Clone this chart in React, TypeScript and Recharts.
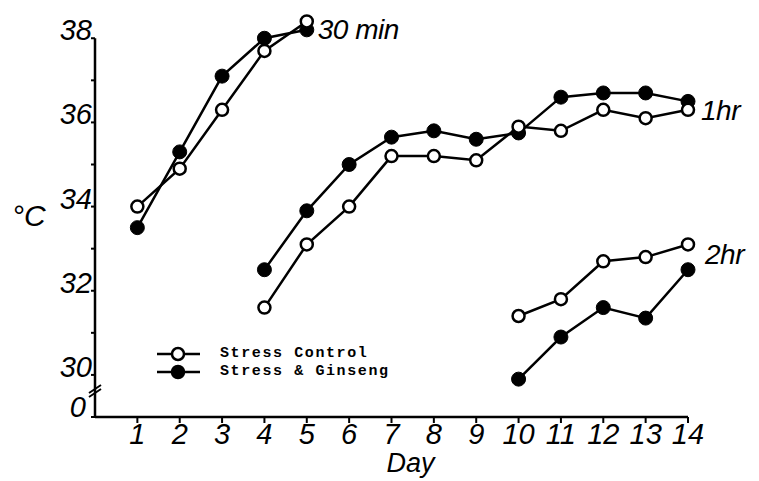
import React from "react";
import { LineChart, Line, XAxis, YAxis, ReferenceLine, LabelList } from "recharts";

const days = [1, 2, 3, 4, 5, 6, 7, 8, 9, 10, 11, 12, 13, 14];
const control30 = [34.0, 34.9, 36.3, 37.7, 38.4, null, null, null, null, null, null, null, null, null];
const ginseng30 = [33.5, 35.3, 37.1, 38.0, 38.2, null, null, null, null, null, null, null, null, null];
const control1h = [null, null, null, 31.6, 33.1, 34.0, 35.2, 35.2, 35.1, 35.9, 35.8, 36.3, 36.1, 36.3];
const ginseng1h = [null, null, null, 32.5, 33.9, 35.0, 35.65, 35.8, 35.6, 35.75, 36.6, 36.7, 36.7, 36.5];
const control2h = [null, null, null, null, null, null, null, null, null, 31.4, 31.8, 32.7, 32.8, 33.1];
const ginseng2h = [null, null, null, null, null, null, null, null, null, 29.9, 30.9, 31.6, 31.35, 32.5];
const yTicks = [29, 30, 31, 32, 33, 34, 35, 36, 37, 38];
const legendItems = [
  { name: "Stress Control", fill: "#fff" },
  { name: "Stress & Ginseng", fill: "#000" },
];

const data = days.map((d, i) => ({
  day: d,
  c30: control30[i],
  g30: ginseng30[i],
  c1: control1h[i],
  g1: ginseng1h[i],
  c2: control2h[i],
  g2: ginseng2h[i],
}));

const hand = "'Liberation Sans', Arial, sans-serif";

const YTick = (props: any) => {
  const { x, y, payload } = props;
  const v = payload.value;
  if (v === 29) {
    return (
      <g>
        <text x={x - 3} y={y} textAnchor="end" fontFamily={hand} fontStyle="italic" fontSize={29} fill="#000">0</text>
        <path d={`M ${x} ${y - 20} L ${x + 12} ${y - 28} M ${x} ${y - 24} L ${x + 12} ${y - 32}`} stroke="#000" strokeWidth={2} />
      </g>
    );
  }
  if (v % 2 !== 0) return null;
  return (
    <text x={x + 3} y={y + 2} textAnchor="end" fontFamily={hand} fontStyle="italic" fontSize={29} fill="#000">
      {v}
    </text>
  );
};

const endLabel = (text: string, last: number, dx: number, dy: number) => (props: any) => {
  const { x, y, index } = props;
  if (index !== last || x == null || y == null) return null;
  return (
    <text x={x + dx} y={y + dy} fontFamily={hand} fontStyle="italic" fontSize={28} fill="#000" letterSpacing={-0.5}>
      {text}
    </text>
  );
};

const openDot = { r: 6, fill: "#fff", stroke: "#000", strokeWidth: 2.5 };
const fullDot = { r: 7, fill: "#000", stroke: "#000", strokeWidth: 1 };

export default function App() {
  return (
    <div style={{ position: "absolute", left: 0, top: 0, width: 759, height: 481, background: "#fff" }}>
      <LineChart width={759} height={481} data={data} margin={{ top: 13, right: 71, bottom: 34, left: 0 }}>
        <XAxis
          dataKey="day"
          type="number"
          domain={[0, 14]}
          ticks={days}
          allowDecimals={false}
          height={30}
          axisLine={{ stroke: "#000", strokeWidth: 2.5 }}
          tickLine={{ stroke: "#000", strokeWidth: 2 }}
          tickSize={6}
          tickMargin={0}
          tick={{ fill: "#000", fontFamily: hand, fontStyle: "italic", fontSize: 29 }}
          label={{ value: "Day", position: "bottom", offset: 6, dx: 19, fill: "#000", fontFamily: hand, fontStyle: "italic", fontSize: 27 }}
        />
        <YAxis
          type="number"
          domain={[29, 38.6]}
          ticks={yTicks}
          width={95}
          axisLine={false}
          tickLine={{ stroke: "#000", strokeWidth: 2 }}
          tickSize={4}
          tickMargin={2}
          tick={<YTick />}
          label={{ value: "°C", position: "insideLeft", offset: 12, fill: "#000", fontFamily: hand, fontStyle: "italic", fontSize: 30 }}
        />
        <ReferenceLine segment={[{ x: 0, y: 29 }, { x: 0, y: 38 }]} stroke="#000" strokeWidth={2.5} />
        <Line dataKey="g30" stroke="#000" strokeWidth={2.5} dot={fullDot} isAnimationActive={false} />
        <Line dataKey="c30" stroke="#000" strokeWidth={2.5} dot={openDot} isAnimationActive={false}>
          <LabelList content={endLabel("30 min", 4, 11, 18)} />
        </Line>
        <Line dataKey="g1" stroke="#000" strokeWidth={2.5} dot={fullDot} isAnimationActive={false} />
        <Line dataKey="c1" stroke="#000" strokeWidth={2.5} dot={openDot} isAnimationActive={false}>
          <LabelList content={endLabel("1hr", 13, 13, 10)} />
        </Line>
        <Line dataKey="g2" stroke="#000" strokeWidth={2.5} dot={fullDot} isAnimationActive={false} />
        <Line dataKey="c2" stroke="#000" strokeWidth={2.5} dot={openDot} isAnimationActive={false}>
          <LabelList content={endLabel("2hr", 13, 17, 20)} />
        </Line>
      </LineChart>
      <div
        style={{
          position: "absolute",
          left: 155,
          top: 345,
          fontFamily: "'Liberation Mono', monospace",
          fontSize: 15,
          fontWeight: "bold",
          letterSpacing: 1.6,
          lineHeight: "18px",
        }}
      >
        {legendItems.map((e) => (
          <div key={e.name} style={{ display: "flex", alignItems: "center", height: 18 }}>
            <svg width={46} height={16} style={{ marginRight: 19 }}>
              <line x1={2} y1={8} x2={45} y2={8} stroke="#000" strokeWidth={2.5} />
              <circle cx={23} cy={8} r={6} fill={e.fill} stroke="#000" strokeWidth={2.5} />
            </svg>
            <span>{e.name}</span>
          </div>
        ))}
      </div>
    </div>
  );
}
